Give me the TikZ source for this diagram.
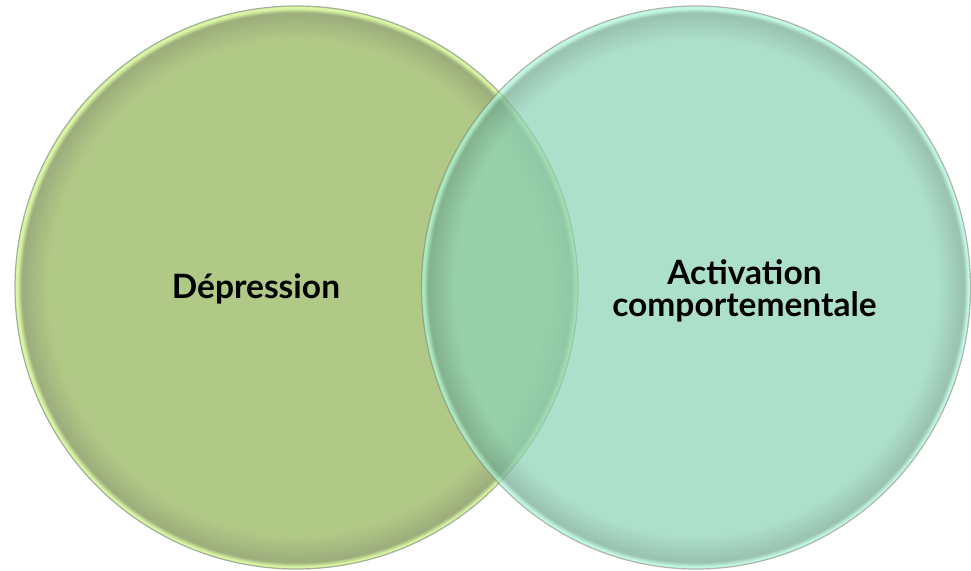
\documentclass[tikz,border=0pt]{standalone}
\usepackage{fontspec}
\setmainfont{Lato}
\definecolor{leftc}{HTML}{B1C986}
\definecolor{leftdark}{HTML}{9CAD7C}
\definecolor{leftrim}{HTML}{DAF6A4}
\definecolor{rightc}{HTML}{8DD4B7}
\definecolor{rightdark}{HTML}{72AA92}
\definecolor{rightrim}{HTML}{AAF6D6}
\definecolor{edgegray}{HTML}{868F83}
\pgfdeclareradialshading{leftshade}{\pgfpoint{0bp}{0bp}}{color(0bp)=(leftc); color(22bp)=(leftc); color(24.4bp)=(leftdark); color(24.8bp)=(leftrim); color(25bp)=(leftrim); color(50bp)=(leftrim)}
\pgfdeclareradialshading{rightshade}{\pgfpoint{0bp}{0bp}}{color(0bp)=(rightc); color(22bp)=(rightc); color(24.4bp)=(rightdark); color(24.8bp)=(rightrim); color(25bp)=(rightrim); color(50bp)=(rightrim)}
\tikzset{
  label/.style={font=\fontsize{33.5}{32}\selectfont\bfseries, text=black, inner sep=0pt, align=center},
  rimline/.style={draw=edgegray, line width=1.2pt, draw opacity=0.7}
}
\begin{document}
\begin{tikzpicture}[x=1pt,y=-1pt]
\useasboundingbox (0,0) rectangle (971,570);
% left circle
\shade[shading=leftshade] (296.5,287.5) ellipse [x radius=281.5, y radius=281.5];
\draw[rimline] (296.5,287.5) ellipse [x radius=281.5, y radius=281.5];
% right circle, semi transparent
\begin{scope}[transparency group, opacity=0.72]
\shade[shading=rightshade] (696,287.5) ellipse [x radius=274.5, y radius=281.5];
\draw[rimline, draw opacity=0.9] (696,287.5) ellipse [x radius=274.5, y radius=281.5];
\end{scope}
\node[label] (dep) at (256,289) {Dépression};
\node[label] (act) at (744.5,290.5) {Activation\\comportementale};
\end{tikzpicture}
\end{document}
